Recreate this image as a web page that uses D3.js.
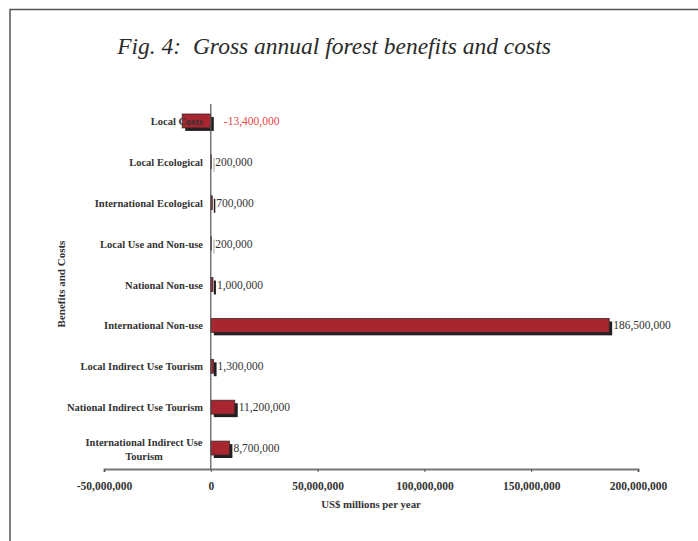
<!DOCTYPE html>
<html>
<head>
<meta charset="utf-8">
<script src="https://cdn.jsdelivr.net/npm/d3@7"></script>
<style>
  html, body { margin: 0; padding: 0; background: #fff; }
  svg { display: block; }
</style>
</head>
<body>
<script>
// Benefit and cost categories, top to bottom
const categories = [
  "Local Costs",
  "Local Ecological",
  "International Ecological",
  "Local Use and Non-use",
  "National Non-use",
  "International Non-use",
  "Local Indirect Use Tourism",
  "National Indirect Use Tourism",
  "International Indirect Use Tourism"
];
// Annual values in US$
const values = [-13400000, 200000, 700000, 200000, 1000000, 186500000, 1300000, 11200000, 8700000];
const tickValues = [-50000000, 0, 50000000, 100000000, 150000000, 200000000];

const W = 698, H = 541;
const serif = "'Liberation Serif', 'DejaVu Serif', serif";
const svg = d3.select("body").append("svg").attr("width", W).attr("height", H);

// plain hyphen for negatives
const fmt = d3.formatLocale({ decimal: ".", thousands: ",", grouping: [3], currency: ["$", ""], minus: "-" }).format(",");

// frame
svg.append("path")
  .attr("d", `M10,${H} L10,9.5 L${W},9.5`)
  .attr("fill", "none").attr("stroke", "#555").attr("stroke-width", 1.5);

// title
svg.append("text")
  .attr("x", 334).attr("y", 54)
  .attr("text-anchor", "middle")
  .style("white-space", "pre")
  .attr("font-family", serif).attr("font-style", "italic")
  .attr("font-size", 23.5).attr("fill", "#2a2a2a")
  .text("Fig. 4:  Gross annual forest benefits and costs");

const x = d3.scaleLinear().domain([-50000000, 200000000]).range([104, 638]);
const y = d3.scaleBand().domain(categories).range([100.5, 468.5]).paddingInner(0.66).paddingOuter(0.33);

const data = categories.map((c, i) => ({ cat: c, v: values[i] }));

// bar shadows
svg.append("g").selectAll("rect").data(data).join("rect")
  .attr("x", d => Math.min(x(0), x(d.v)) + 3)
  .attr("y", d => y(d.cat) + 3)
  .attr("width", d => Math.abs(x(d.v) - x(0)))
  .attr("height", y.bandwidth())
  .attr("fill", "#231f20");

// bars
svg.append("g").selectAll("rect").data(data).join("rect")
  .attr("x", d => Math.min(x(0), x(d.v)))
  .attr("y", d => y(d.cat))
  .attr("width", d => Math.abs(x(d.v) - x(0)))
  .attr("height", y.bandwidth())
  .attr("fill", "#a8262f")
  .attr("stroke", "#3a2a2a").attr("stroke-width", 0.8);

// zero line
svg.append("line")
  .attr("x1", x(0)).attr("x2", x(0))
  .attr("y1", 104).attr("y2", 469)
  .attr("stroke", "#555").attr("stroke-width", 1.2);

// category labels
svg.append("g").selectAll("text").data(data).join("text")
  .attr("x", 203)
  .attr("y", d => y(d.cat) + y.bandwidth() / 2 + 4)
  .attr("text-anchor", "end")
  .attr("font-family", serif).attr("font-weight", "bold")
  .attr("font-size", 10.5).attr("fill", "#333")
  .each(function (d) {
    const t = d3.select(this);
    if (d.cat === "International Indirect Use Tourism") {
      t.attr("text-anchor", "middle");
      t.append("tspan").attr("x", 144).attr("dy", -6).text("International Indirect Use");
      t.append("tspan").attr("x", 144).attr("dy", 14).text("Tourism");
    } else {
      t.text(d.cat);
    }
  });

// value labels
svg.append("g").selectAll("text").data(data).join("text")
  .attr("x", d => d.v < 0 ? x(0) + 13 : x(d.v) + 4)
  .attr("y", d => y(d.cat) + y.bandwidth() / 2 + 4)
  .attr("font-family", serif)
  .attr("font-size", 11.5)
  .attr("fill", d => d.v < 0 ? "#e8444a" : "#333")
  .text(d => fmt(d.v));

// x axis
const axis = svg.append("g").attr("transform", "translate(0,469)")
  .call(d3.axisBottom(x).tickValues(tickValues).tickSize(3).tickFormat(fmt));
axis.select(".domain").attr("stroke", "#777").attr("stroke-width", 2);
axis.selectAll(".tick line").attr("stroke", "#555").attr("stroke-width", 1);
axis.selectAll(".tick text")
  .attr("y", 13)
  .attr("font-family", serif).attr("font-weight", "bold")
  .attr("font-size", 11.5).attr("fill", "#333");

// axis titles
svg.append("text")
  .attr("x", 371).attr("y", 508)
  .attr("text-anchor", "middle")
  .attr("font-family", serif).attr("font-weight", "bold")
  .attr("font-size", 10.8).attr("fill", "#333")
  .text("US$ millions per year");

svg.append("text")
  .attr("transform", "translate(65,284) rotate(-90)")
  .attr("text-anchor", "middle")
  .attr("font-family", serif).attr("font-weight", "bold")
  .attr("font-size", 11).attr("fill", "#333")
  .text("Benefits and Costs");
</script>
</body>
</html>
